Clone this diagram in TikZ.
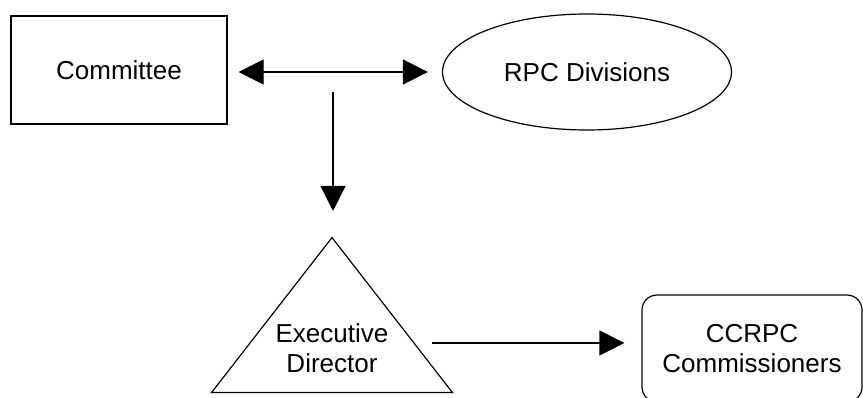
\documentclass[tikz,border=0pt]{standalone}
\usepackage{fontspec}
\setmainfont{Liberation Sans}
\usetikzlibrary{arrows.meta, shapes.geometric}

\tikzset{
  lbl/.style={font=\fontsize{26}{30}\selectfont, align=center},
  box/.style={draw, minimum width=216pt, minimum height=108pt, inner sep=0pt},
  oval/.style={draw, ellipse, minimum width=289pt, minimum height=116pt, inner sep=0pt},
  tri/.style={draw, isosceles triangle, isosceles triangle stretches, shape border rotate=90,
    minimum width=241pt, minimum height=155pt, inner sep=0pt},
  rbox/.style={draw, rounded corners=15pt, minimum width=220pt, minimum height=107pt, inner sep=0pt},
}

\begin{document}
\begin{tikzpicture}[x=1pt, y=-1pt, line width=1.2pt, >={Triangle[length=25pt, width=25pt]}]
  \useasboundingbox (0,0) rectangle (863,398);
  \clip (0,0) rectangle (863,398);

  \node[box, lbl] (com) at (119,70) {Committee};
  \node[oval, lbl] (rpc) at (587,72) {RPC Divisions};
  \node[tri, anchor=apex] (edtri) at (332,236) {};
  \node[lbl, inner sep=0pt] (ed) at (332,348.5) {Executive\\Director};
  \node[rbox, lbl] (ccrpc) at (752,348.5) {CCRPC\\Commissioners};
  \coordinate (split) at (333,92);

  \draw[<->, shorten <=11pt, shorten >=14pt] (com.east |- rpc.west) -- (rpc.west);
  \draw[->, shorten >=25pt] (split) -- (split |- edtri.apex);
  \draw[->, shorten <=43pt, shorten >=17pt] ([yshift=5.5pt]ed.east) -- ([yshift=5.5pt]ccrpc.west);
\end{tikzpicture}
\end{document}
